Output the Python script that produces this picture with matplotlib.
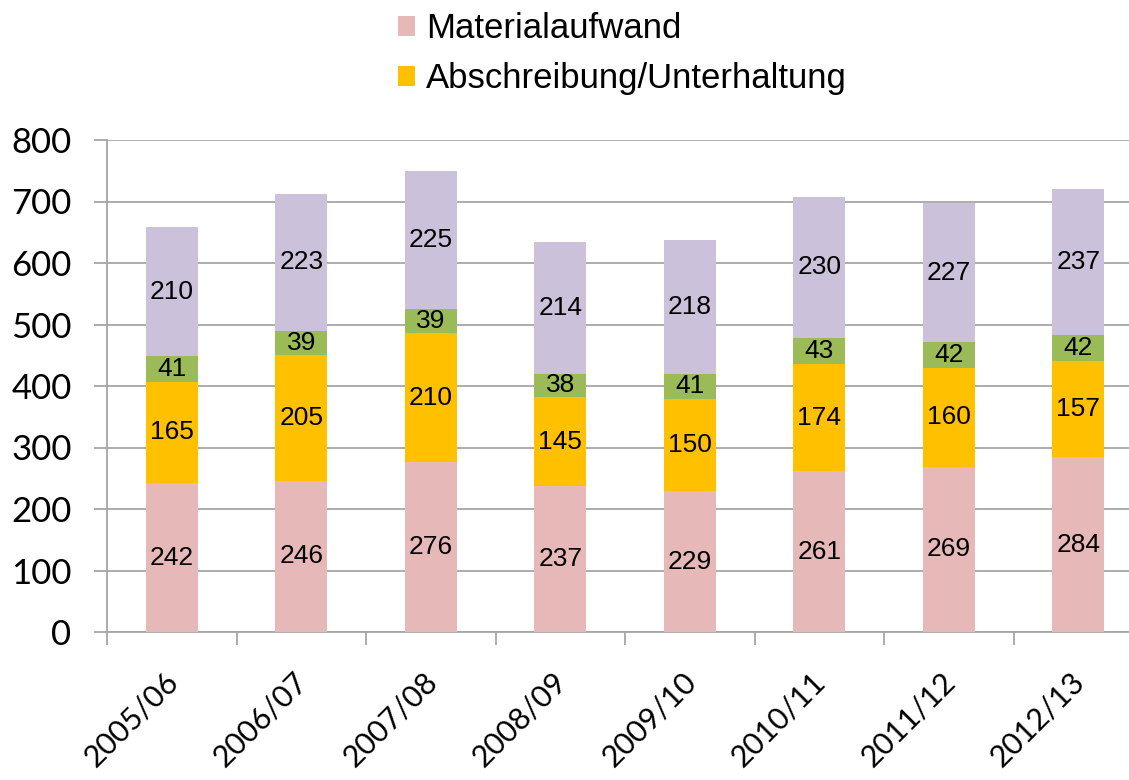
import matplotlib.pyplot as plt
from matplotlib.ticker import FixedLocator
import matplotlib.transforms as mtransforms
import numpy as np

# values
jahre = ["2005/06", "2006/07", "2007/08", "2008/09", "2009/10", "2010/11", "2011/12", "2012/13"]
materialaufwand = [242, 246, 276, 237, 229, 261, 269, 284]
abschreibung = [165, 205, 210, 145, 150, 174, 160, 157]
gruen = [41, 39, 39, 38, 41, 43, 42, 42]
lila = [210, 223, 225, 214, 218, 230, 227, 237]

serien = [
    ("Materialaufwand", materialaufwand, "#E6B9B8"),
    ("Abschreibung/Unterhaltung", abschreibung, "#FFC000"),
    ("Sonstiges", gruen, "#9BBB59"),
    ("Personal", lila, "#CCC1DA"),
]

grau = "#A6A6A6"
tick_font = "Lato"
label_font = "Liberation Sans"

fig = plt.figure(figsize=(11.29, 7.8), dpi=100)
# axes run a bit past the right edge, like the cropped original
ax = fig.add_axes([107 / 1129, 148 / 780, 1036 / 1129, 492 / 780])

x = np.arange(len(jahre))
unten = np.zeros(len(jahre))
handles = []
for name, werte, farbe in serien:
    bars = ax.bar(x, werte, width=0.4, bottom=unten, color=farbe, label=name, zorder=3)
    ax.bar_label(bars, label_type="center", fontsize=19, family=label_font, color="black")
    handles.append(bars)
    unten = unten + np.array(werte)

ax.set_xlim(-0.5, len(jahre) - 0.5)
ax.set_ylim(0, 800)
ax.set_yticks(range(0, 801, 100))
ax.yaxis.grid(True, color=grau, linewidth=1.3, zorder=0)

for s in ["top", "right"]:
    ax.spines[s].set_visible(False)
for s in ["left", "bottom"]:
    ax.spines[s].set_color(grau)
    ax.spines[s].set_linewidth(1.3)

ax.tick_params(axis="y", length=9.5, width=1.3, color=grau, pad=16, labelsize=25)
ax.set_xticks(x)
ax.set_xticklabels(jahre, rotation=45, ha="right", va="top", rotation_mode="anchor")
ax.tick_params(axis="x", which="major", length=0, pad=25, labelsize=22)
ax.xaxis.set_minor_locator(FixedLocator(np.arange(-0.5, len(jahre), 1.0)))
ax.tick_params(axis="x", which="minor", length=9.5, width=1.3, color=grau)
shift = mtransforms.ScaledTranslation(-8 / 100, 0, fig.dpi_scale_trans)
for lab in ax.get_xticklabels():
    lab.set_family(tick_font)
    lab.set_transform(lab.get_transform() + shift)
for lab in ax.get_yticklabels():
    lab.set_family(tick_font)

# only the first two entries are visible in the reference
fig.legend(handles[:2], [serien[0][0], serien[1][0]], loc="upper left",
           bbox_to_anchor=(398 / 1129, 1 - 12 / 780), frameon=False, borderpad=0,
           borderaxespad=0, prop={"family": label_font, "size": 25},
           handlelength=0.5, handleheight=0.5, handletextpad=0.3, labelspacing=0.5)

fig.savefig("out.png", dpi=100)
